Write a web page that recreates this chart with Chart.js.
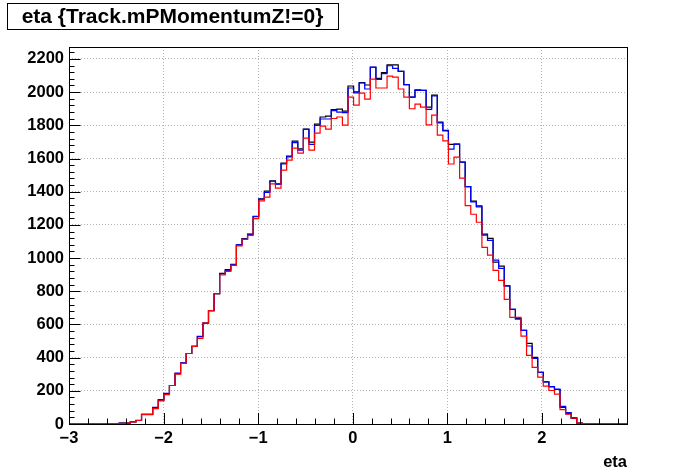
<!DOCTYPE html>
<html>
<head>
<meta charset="utf-8">
<script src="https://cdn.jsdelivr.net/npm/chart.js@4"></script>
<style>
  html, body { margin: 0; padding: 0; background: #fff; }
  #wrap { width: 696px; height: 472px; }
</style>
</head>
<body>
<div id="wrap"><canvas id="c" width="696" height="472"></canvas></div>
<script>
// histogram binning (100 bins)
const xMin = -3;
const xMax = 2.9;
const nBins = 100;
const yMax = 2272;

// axis labels
const xTickValues = [-3, -2, -1, 0, 1, 2];
const yTickValues = [0, 200, 400, 600, 800, 1000, 1200, 1400, 1600, 1800, 2000, 2200];

// bin contents, bins 0..99
const blackCounts = [
  0, 0, 0, 0, 0, 0, 0, 0, 0, 6,
  5, 14, 22, 58, 58, 97, 144, 182, 232, 304,
  367, 425, 468, 526, 608, 683, 785, 908, 930, 962,
  1079, 1117, 1145, 1252, 1357, 1403, 1465, 1447, 1573, 1614,
  1705, 1658, 1777, 1699, 1807, 1850, 1856, 1894, 1898, 1886,
  2037, 2002, 2057, 2043, 2150, 2083, 2117, 2164, 2164, 2125,
  2045, 1970, 2014, 2010, 1910, 1982, 1819, 1769, 1685, 1687,
  1578, 1431, 1343, 1314, 1144, 1119, 976, 952, 832, 691,
  637, 564, 486, 401, 311, 254, 224, 208, 100, 63,
  33, 5, 0, 0, 0, 0, 0, 0, 0, 0
];
const blueCounts = [
  0, 0, 0, 0, 0, 0, 0, 0, 0, 5,
  5, 13, 21, 58, 58, 100, 147, 184, 232, 306,
  369, 425, 468, 528, 608, 683, 785, 904, 924, 960,
  1079, 1115, 1143, 1250, 1355, 1395, 1463, 1445, 1568, 1610,
  1696, 1650, 1775, 1685, 1799, 1838, 1838, 1888, 1880, 1876,
  2025, 1996, 2055, 2019, 2151, 2077, 2111, 2159, 2143, 2125,
  2045, 1970, 2010, 2010, 1896, 1978, 1815, 1766, 1657, 1687,
  1578, 1431, 1339, 1308, 1138, 1107, 987, 938, 832, 691,
  632, 564, 470, 395, 311, 254, 226, 210, 106, 69,
  39, 5, 0, 0, 0, 0, 0, 0, 0, 0
];
const redCounts = [
  0, 0, 0, 0, 0, 0, 0, 0, 0, 4,
  5, 13, 21, 57, 57, 93, 139, 177, 232, 300,
  365, 425, 468, 516, 608, 683, 785, 898, 920, 956,
  1073, 1113, 1137, 1238, 1345, 1367, 1447, 1421, 1530, 1590,
  1663, 1632, 1723, 1651, 1753, 1795, 1777, 1841, 1850, 1801,
  1970, 1922, 1994, 1958, 2079, 2025, 2025, 2097, 2091, 2019,
  1970, 1900, 1928, 1910, 1803, 1862, 1741, 1706, 1567, 1608,
  1482, 1316, 1264, 1216, 1065, 1018, 926, 866, 751, 643,
  643, 530, 413, 341, 282, 228, 202, 180, 87, 59,
  35, 5, 0, 0, 0, 0, 0, 0, 0, 0
];

const titleText = "eta {Track.mPMomentumZ!=0}";
const xTitle = "eta";
const FONT = "'Liberation Sans', Arial, Helvetica, sans-serif";

const binWidth = (xMax - xMin) / nBins;

// step outline: one point per bin low edge, plus closing point at the high edge
function toSteps(counts) {
  const pts = counts.map((v, i) => ({ x: xMin + i * binWidth, y: v }));
  pts.push({ x: xMax, y: counts[counts.length - 1] });
  return pts;
}

function histSet(label, counts, color, order) {
  return {
    label: label,
    data: toSteps(counts),
    borderColor: color,
    borderWidth: 1.2,
    stepped: "before",
    pointRadius: 0,
    fill: false,
    clip: 3,
    order: order
  };
}

// ROOT-like frame, inward ticks, title box and axis title
const rootFrame = {
  id: "rootFrame",
  afterDraw(chart) {
    const ctx = chart.ctx;
    const a = chart.chartArea;
    const xs = chart.scales.x;
    const ys = chart.scales.y;
    ctx.save();
    ctx.strokeStyle = "#000";
    ctx.lineWidth = 1;

    // frame
    ctx.strokeRect(Math.round(a.left) + 0.5, Math.round(a.top) + 0.5,
      Math.round(a.right - a.left), Math.round(a.bottom - a.top));

    // y ticks every 40, major every 200
    ctx.beginPath();
    for (let v = 0; v <= yMax; v += 40) {
      const py = Math.round(ys.getPixelForValue(v)) + 0.5;
      const len = (v % 200 === 0) ? 11.5 : 5.5;
      ctx.moveTo(a.left, py);
      ctx.lineTo(a.left + len, py);
    }
    // x ticks every 0.2, major every 1
    for (let k = 0; k * 0.2 <= (xMax - xMin) + 1e-9; k++) {
      const v = xMin + k * 0.2;
      const px = Math.round(xs.getPixelForValue(v)) + 0.5;
      const len = (k % 5 === 0) ? 11 : 5.5;
      ctx.moveTo(px, a.bottom);
      ctx.lineTo(px, a.bottom - len);
    }
    ctx.stroke();

    // title box
    ctx.fillStyle = "#fff";
    ctx.fillRect(7, 3, 331, 27);
    ctx.strokeRect(7.5, 3.5, 331, 26);
    ctx.fillStyle = "#000";
    ctx.font = "bold 21px " + FONT;
    ctx.textAlign = "center";
    ctx.textBaseline = "middle";
    ctx.fillText(titleText, 172.5, 17);

    // x axis title
    ctx.font = "bold 16.5px " + FONT;
    ctx.textAlign = "right";
    ctx.textBaseline = "alphabetic";
    ctx.fillText(xTitle, a.right, 467);
    ctx.restore();
  }
};

new Chart(document.getElementById("c"), {
  type: "line",
  data: {
    datasets: [
      histSet("red", redCounts, "#ff0000", 0),
      histSet("blue", blueCounts, "#0000ff", 1),
      histSet("black", blackCounts, "#000000", 2)
    ]
  },
  options: {
    responsive: false,
    animation: false,
    devicePixelRatio: 1,
    layout: { padding: { left: 0, right: 69, top: 47, bottom: 0 } },
    plugins: {
      legend: { display: false },
      tooltip: { enabled: false },
      title: { display: false }
    },
    scales: {
      x: {
        type: "linear",
        min: xMin,
        max: xMax,
        afterFit(scale) { scale.height = 48; },
        afterBuildTicks(scale) {
          scale.ticks = xTickValues.map(v => ({ value: v }));
        },
        ticks: {
          autoSkip: false,
          maxRotation: 0,
          padding: 5,
          color: "#000",
          font: { family: FONT, size: 16.5, weight: "bold" },
          callback: v => (v < 0 ? "\u2212" + Math.abs(v) : String(v))
        },
        grid: { color: "#b4b4b4", lineWidth: 1, drawTicks: false },
        border: { display: false, dash: [1, 2] }
      },
      y: {
        min: 0,
        max: yMax,
        afterFit(scale) { scale.width = 69; },
        afterBuildTicks(scale) {
          scale.ticks = yTickValues.map(v => ({ value: v }));
        },
        ticks: {
          autoSkip: false,
          padding: 5,
          color: "#000",
          font: { family: FONT, size: 16.5, weight: "bold" },
          callback: v => String(v)
        },
        grid: { color: "#b4b4b4", lineWidth: 1, drawTicks: false },
        border: { display: false, dash: [1, 2] }
      }
    }
  },
  plugins: [rootFrame]
});
</script>
</body>
</html>
